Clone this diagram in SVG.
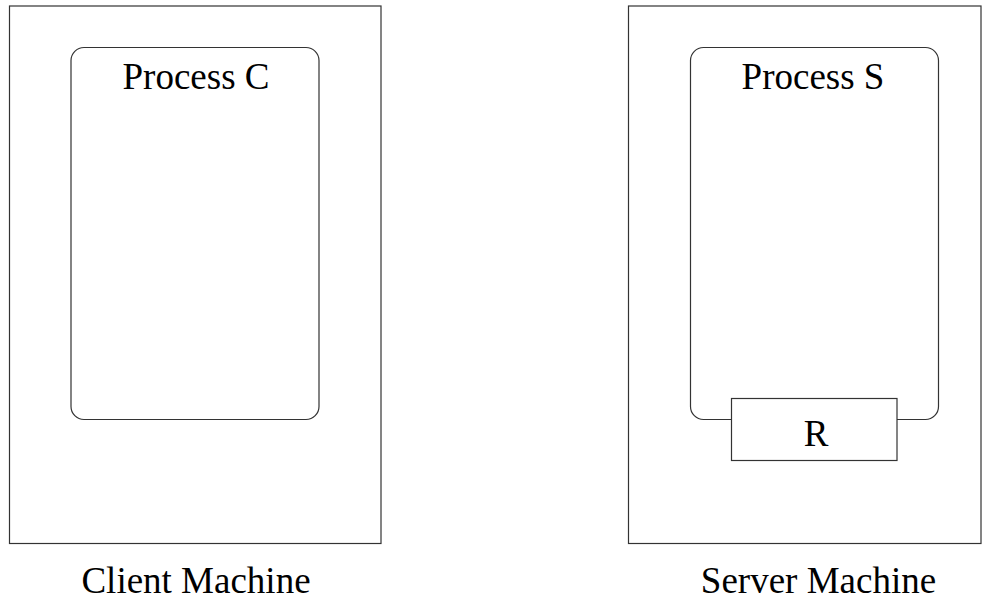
<svg xmlns="http://www.w3.org/2000/svg" width="987" height="602" viewBox="0 0 987 602">
<style>
.box{fill:none;stroke:#333;stroke-width:1.2}
.rbox{fill:#fff;stroke:#333;stroke-width:1.2}
.t{font-family:'Liberation Serif','Times New Roman',serif;font-size:37px;fill:#000;text-anchor:middle}
</style>
<rect width="987" height="602" fill="#fff"/>
<g id="client-machine">
<rect class="box" x="9.5" y="6" width="371.5" height="537.5"/>
<text class="t" x="196" y="593">Client Machine</text>
</g>
<g id="process-c">
<rect class="box" x="71" y="47.5" width="248" height="372" rx="13" ry="13"/>
<text class="t" x="196" y="88.5">Process C</text>
</g>
<g id="server-machine">
<rect class="box" x="628.5" y="6" width="352.5" height="537.5"/>
<text class="t" x="818.5" y="593">Server Machine</text>
</g>
<g id="process-s">
<rect class="box" x="690.5" y="47.5" width="248" height="372" rx="13" ry="13"/>
<text class="t" x="813" y="88.5">Process S</text>
</g>
<g id="r">
<rect class="rbox" x="731.5" y="398.5" width="165.5" height="62"/>
<text class="t" x="816" y="446">R</text>
</g>
<g id="connectors"></g>
</svg>
